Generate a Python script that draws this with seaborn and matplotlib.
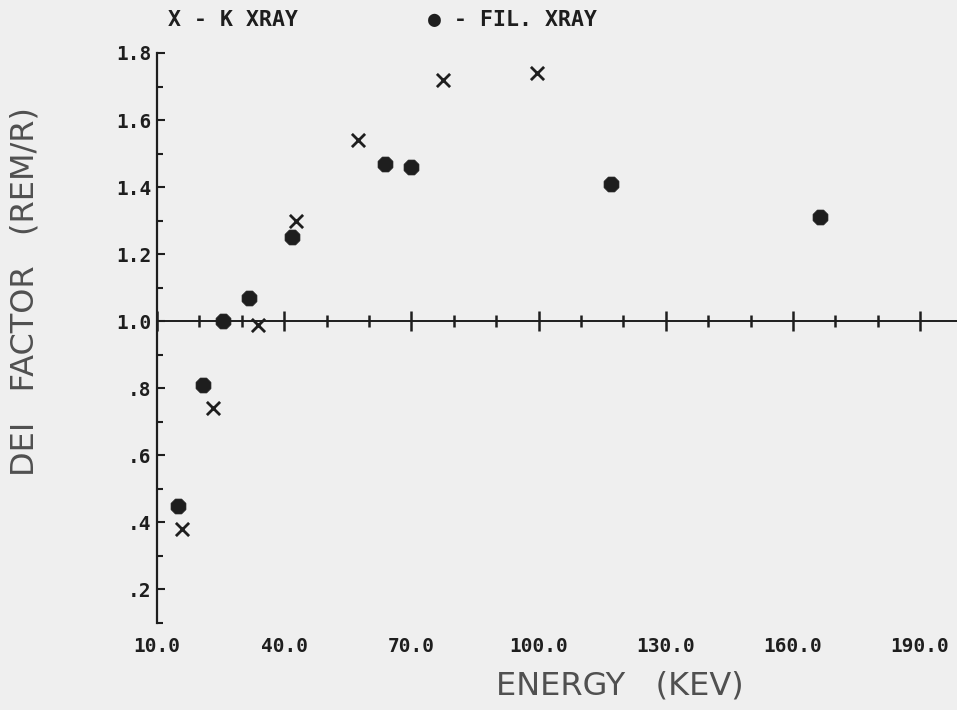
import matplotlib
matplotlib.use("Agg")
import matplotlib.pyplot as plt
import seaborn as sns
import numpy as np
import pandas as pd
from matplotlib.ticker import FixedLocator, MultipleLocator

# ---- data ----
fil_energy = [15.0, 20.8, 25.6, 31.8, 41.8, 63.8, 69.9, 117.1, 166.5]
fil_dei = [0.45, 0.81, 1.00, 1.07, 1.25, 1.47, 1.46, 1.41, 1.31]
k_energy = [15.9, 23.3, 33.9, 42.7, 57.5, 77.5, 99.7]
k_dei = [0.38, 0.74, 0.99, 1.30, 1.54, 1.72, 1.74]

x_ticks = [10, 40, 70, 100, 130, 160, 190]
x_ticklabels = ["10.0", "40.0", "70.0", "100.0", "130.0", "160.0", "190.0"]
y_ticks = [0.2, 0.4, 0.6, 0.8, 1.0, 1.2, 1.4, 1.6, 1.8]
y_ticklabels = [".2", ".4", ".6", ".8", "1.0", "1.2", "1.4", "1.6", "1.8"]

BG = "#efefef"
INK = "#1e1e1e"

sns.set_theme(style="white")
plt.rcParams["font.family"] = ["DejaVu Sans Mono", "DejaVu Sans"]

fig = plt.figure(figsize=(9.57, 7.10), dpi=100, facecolor=BG)
ax = fig.add_axes([157 / 957, (710 - 623) / 710, 1 - 157 / 957, (623 - 53) / 710])
ax.set_facecolor(BG)

fil_df = pd.DataFrame({"energy": fil_energy, "dei": fil_dei})
k_df = pd.DataFrame({"energy": k_energy, "dei": k_dei})

sns.scatterplot(data=fil_df, x="energy", y="dei", ax=ax, marker="8", s=135,
                color=INK, edgecolor=INK, linewidth=0.5, zorder=5)
sns.scatterplot(data=k_df, x="energy", y="dei", ax=ax, marker="x", s=90,
                color=INK, linewidth=2.0, zorder=5)

ax.set_xlim(10, 198.7)
ax.set_ylim(0.1, 1.8)

for s in ["top", "right"]:
    ax.spines[s].set_visible(False)
ax.spines["bottom"].set_position(("data", 1.0))
ax.spines["bottom"].set_color(INK)
ax.spines["bottom"].set_linewidth(1.4)
ax.spines["left"].set_color(INK)
ax.spines["left"].set_linewidth(1.6)

# x ticks crossing the 1.0 line, no labels there
ax.xaxis.set_major_locator(FixedLocator(x_ticks))
ax.xaxis.set_minor_locator(MultipleLocator(10))
ax.tick_params(axis="x", which="major", direction="inout", length=15, width=1.8,
               color=INK, labelbottom=False, bottom=True)
ax.tick_params(axis="x", which="minor", direction="inout", length=9, width=1.8,
               color=INK, bottom=True)

# y ticks inside
ax.yaxis.set_major_locator(FixedLocator(y_ticks))
ax.yaxis.set_minor_locator(FixedLocator([0.1, 0.3, 0.5, 0.7, 0.9, 1.1, 1.3, 1.5, 1.7]))
ax.set_yticklabels(y_ticklabels)
ax.tick_params(axis="y", which="major", direction="in", length=6, width=1.5,
               color=INK, pad=4, labelsize=14, labelcolor=INK, left=True)
ax.tick_params(axis="y", which="minor", direction="in", length=4, width=1.5,
               color=INK, left=True)
for lab in ax.get_yticklabels():
    lab.set_fontweight("bold")

# x tick labels along the bottom via a secondary axis
sec = ax.secondary_xaxis(0.0)
sec.set_xticks(x_ticks)
sec.set_xticklabels(x_ticklabels)
sec.spines["bottom"].set_visible(False)
sec.tick_params(axis="x", length=0, pad=10, labelsize=14, labelcolor=INK)
for lab in sec.get_xticklabels():
    lab.set_fontweight("bold")

ax.set_xlabel("")
ax.set_ylabel("")
ax.grid(False)

# axis titles
fig.text(25 / 957, 1 - 292 / 710, "DEI   FACTOR   (REM/R)", rotation=90,
         ha="center", va="center", fontsize=23, color="#505050",
         family=["DejaVu Sans", "DejaVu Sans Mono"], fontweight="normal")
fig.text(620 / 957, 1 - 686 / 710, "ENERGY   (KEV)", ha="center", va="center",
         fontsize=23, color="#505050", family=["DejaVu Sans", "DejaVu Sans Mono"],
         fontweight="normal")

# legend text at the top
fig.text(168 / 957, 1 - 20 / 710, "X - K XRAY", ha="left", va="center",
         fontsize=15.5, fontweight="bold", color=INK)
fig.text(428 / 957, 1 - 20 / 710, "\u25CF - FIL. XRAY", ha="left", va="center",
         fontsize=15.5, fontweight="bold", color=INK)

fig.savefig("out.png", dpi=100, facecolor=BG)
